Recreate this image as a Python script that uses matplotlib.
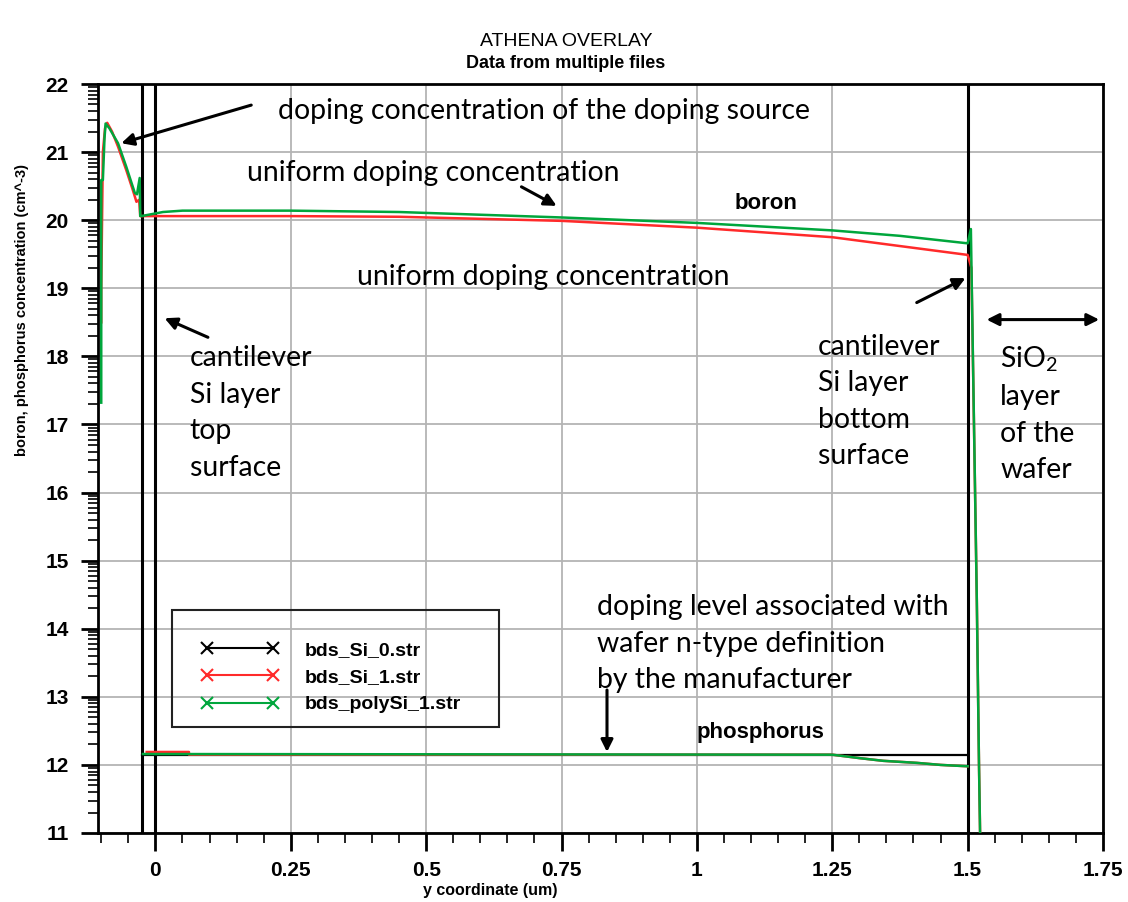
import numpy as np
import matplotlib
matplotlib.use("Agg")
import matplotlib.pyplot as plt
from matplotlib.lines import Line2D
from matplotlib.patches import Rectangle

plt.rcParams['font.family'] = ['Liberation Sans', 'DejaVu Sans']
plt.rcParams['mathtext.fontset'] = 'custom'
plt.rcParams['mathtext.rm'] = 'Lato'

# boron profiles
boron_red_x = [-0.1, -0.1, -0.099, -0.097, -0.093, -0.089, -0.080, -0.069, -0.054, -0.042,
               -0.035, -0.030, -0.028, 0.25, 0.45, 0.75, 1.0, 1.25, 1.375, 1.5,
               1.507, 1.517, 1.521, 1.523]
boron_red_y = [18.5, 19.0, 19.67, 21.0, 21.35, 21.43, 21.3, 21.08, 20.74, 20.45,
               20.27, 20.3, 20.06, 20.06, 20.05, 19.99, 19.89, 19.75, 19.62, 19.49,
               19.3, 14.4, 12.0, 11.0]
boron_green_x = [-0.1, -0.1, -0.097, -0.094, -0.092, -0.085, -0.069, -0.054, -0.038, -0.034,
                 -0.029, -0.028, -0.026, 0.014, 0.05, 0.25, 0.45, 0.75, 1.0, 1.25,
                 1.375, 1.5, 1.506, 1.517, 1.521, 1.523]
boron_green_y = [17.32, 20.59, 20.59, 21.2, 21.42, 21.35, 21.13, 20.79, 20.40, 20.38,
                 20.62, 20.06, 20.06, 20.12, 20.14, 20.14, 20.12, 20.04, 19.96, 19.85,
                 19.77, 19.66, 19.87, 14.4, 12.0, 11.0]

# phosphorus profiles
phos_black_x = [-0.025, 1.5]
phos_black_y = [12.15, 12.15]
phos_red_x = [-0.016, 0.062, 0.062, 1.25, 1.3, 1.344, 1.406, 1.45, 1.5]
phos_red_y = [12.19, 12.19, 12.15, 12.15, 12.1, 12.06, 12.03, 12.0, 11.98]
phos_green_x = [-0.023, 1.25, 1.3, 1.344, 1.406, 1.45, 1.5]
phos_green_y = [12.16, 12.15, 12.1, 12.06, 12.03, 12.0, 11.98]

# material boundaries
boundaries = [-0.025, 0.0, 1.5]

legend_labels = ['bds_Si_0.str', 'bds_Si_1.str', 'bds_polySi_1.str']
colors = ['black', '#ff2a2a', '#00a63c']

x_major = [0, 0.25, 0.5, 0.75, 1, 1.25, 1.5, 1.75]
x_labels = ['0', '0.25', '0.5', '0.75', '1', '1.25', '1.5', '1.75']
y_major = list(range(11, 23))

fig = plt.figure(figsize=(11.28, 9.02), dpi=100)
ax = fig.add_axes([98 / 1128, 1 - 833 / 902, (1103 - 98) / 1128, (833 - 84) / 902])
ax.set_xlim(-0.106, 1.75)
ax.set_ylim(11, 22)

ax.set_xticks(x_major)
ax.set_xticklabels(x_labels)
ax.set_xticks(np.arange(-0.1, 1.76, 0.05), minor=True)
ax.set_yticks(y_major)
ax.set_yticks([n + np.log10(k) for n in range(11, 22) for k in range(2, 10)], minor=True)
ax.grid(True, which='major', color='#b4b4b4', lw=1.3)
ax.set_axisbelow(True)
ax.tick_params(which='major', length=13, width=2, labelsize=15, pad=7)
ax.tick_params(which='minor', length=7, width=1.2)
ax.tick_params(axis='y', which='major', length=12, pad=9)
for lab in ax.get_xticklabels() + ax.get_yticklabels():
    lab.set_fontweight('bold')
for s in ax.spines.values():
    s.set_linewidth(2)

for b in boundaries:
    ax.axvline(b, color='black', lw=2.2, zorder=4)

ax.plot(phos_black_x, phos_black_y, color=colors[0], lw=1.6, zorder=5)
ax.plot(phos_red_x, phos_red_y, color=colors[1], lw=1.8, zorder=6)
ax.plot(phos_green_x, phos_green_y, color=colors[2], lw=1.8, zorder=7)
ax.plot(boron_red_x, boron_red_y, color=colors[1], lw=1.8, zorder=6)
ax.plot(boron_green_x, boron_green_y, color=colors[2], lw=1.8, zorder=7)

# legend
handles = [Line2D([], [], color=c, lw=1.5, marker='x', markersize=8, markeredgewidth=1.5)
           for c in colors]
ax.legend(handles, legend_labels, loc='upper left', bbox_to_anchor=(172 / 1128, 1 - 612 / 902),
          bbox_transform=fig.transFigure, frameon=False, numpoints=2, handlelength=4.0,
          handletextpad=1.3, labelspacing=0.5, borderpad=1.0,
          prop={'weight': 'bold', 'size': 14})
fig.patches.append(Rectangle((172 / 1128, 1 - 727 / 902), 327 / 1128, 117 / 902,
                             transform=fig.transFigure, fill=False, edgecolor='#222222',
                             lw=1.5, zorder=10))

# titles and axis labels
fig.text(566 / 1128, 1 - 42 / 902, 'ATHENA OVERLAY', ha='center', va='center',
         fontsize=14, fontstretch='condensed')
fig.text(566 / 1128, 1 - 63 / 902, 'Data from multiple files', ha='center', va='center',
         fontsize=13, fontweight='bold', fontstretch='condensed')
fig.text(490 / 1128, 1 - 890 / 902, 'y coordinate (um)', ha='center', va='center',
         fontsize=11.5, fontweight='bold')
fig.text(22 / 1128, 1 - 310 / 902, 'boron, phosphorus concentration (cm^-3)', ha='center',
         va='center', rotation=90, fontsize=10.5, fontweight='bold')

# annotations
tk = dict(fontsize=20.4, family=['Lato', 'DejaVu Sans'], color='black')
ap = dict(arrowstyle='-|>', color='black', lw=2.2, mutation_scale=18, shrinkA=0, shrinkB=0)

ax.text(0.226, 21.6, 'doping concentration of the doping source', va='center', **tk)
ax.annotate('', xy=(-0.063, 21.13), xytext=(0.177, 21.69), arrowprops=ap)
ax.text(0.169, 20.69, 'uniform doping concentration', va='center', **tk)
ax.annotate('', xy=(0.741, 20.21), xytext=(0.676, 20.49), arrowprops=ap)
ax.text(1.07, 20.25, 'boron', va='center', fontsize=16, fontweight='bold')
ax.text(0.372, 19.17, 'uniform doping concentration', va='center', **tk)
ax.text(0.063, 18.16, 'cantilever\nSi layer\ntop\nsurface', va='top', linespacing=1.5, **tk)
ax.annotate('', xy=(0.017, 18.56), xytext=(0.097, 18.28), arrowprops=ap)
ax.text(1.223, 18.33, 'cantilever\nSi layer\nbottom\nsurface', va='top', linespacing=1.5, **tk)
ax.annotate('', xy=(1.496, 19.15), xytext=(1.406, 18.79), arrowprops=ap)
ax.text(1.56, 18.18, 'SiO$_2$\nlayer\nof the\nwafer', va='top', linespacing=1.5, **tk)
ax.annotate('', xy=(1.743, 18.54), xytext=(1.535, 18.54),
            arrowprops=dict(ap, arrowstyle='<|-|>'))
ax.text(0.815, 14.51, 'doping level associated with\nwafer n-type definition\nby the manufacturer',
        va='top', linespacing=1.5, **tk)
ax.annotate('', xy=(0.834, 12.19), xytext=(0.834, 13.1), arrowprops=ap)
ax.text(1.0, 12.47, 'phosphorus', va='center', fontsize=16, fontweight='bold')

fig.savefig('out.png', dpi=100)
